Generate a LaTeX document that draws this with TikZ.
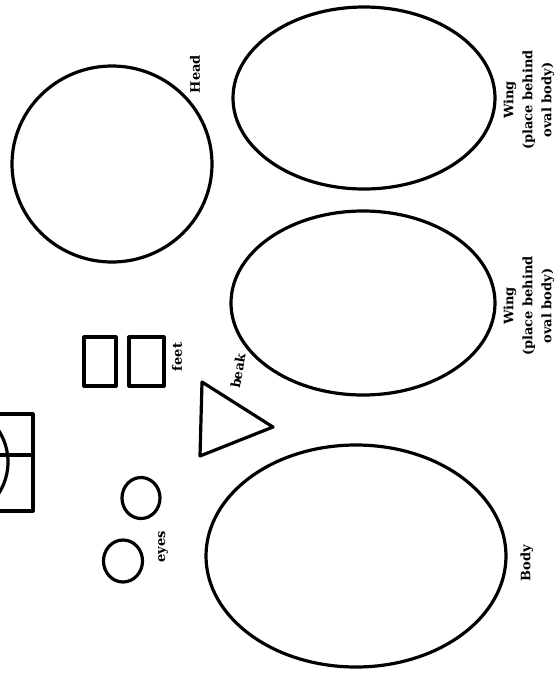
\documentclass[tikz,border=0pt]{standalone}
\usepackage{fontspec}
\usepackage{tikz}
\newfontfamily\lblfont{DejaVu Serif}
\begin{document}
\begin{tikzpicture}[
  x=1pt,y=-1pt,
  o/.style={draw=black,line width=3.2,line join=round},
  l/.style={font=\lblfont\bfseries\fontsize{13}{19}\selectfont,rotate=90,align=center,inner sep=0pt}]
\useasboundingbox (0,0) rectangle (558,673);
\fill[white] (0,0) rectangle (558,673);
\clip (0,0) rectangle (558,673);
% head
\draw[o] (112,164) ellipse [x radius=100,y radius=98];
% wings
\draw[o] (364,98) ellipse [x radius=131,y radius=91];
\draw[o] (363,303) ellipse [x radius=132,y radius=92];
% body
\draw[o] (356,556) ellipse [x radius=150,y radius=111];
% feet
\draw[o] (84,337) rectangle (116,386);
\draw[o] (129,337) rectangle (164,386);
% beak
\draw[o] (202,382) -- (273,427) -- (200,456) -- cycle;
% eyes
\draw[o] (141,498) ellipse [x radius=19,y radius=20.5];
\draw[o] (123,561) ellipse [x radius=19.5,y radius=21];
% cut-off piece at the edge
\draw[o] (-10,414) rectangle (33,511);
\draw[o] (-10,455) -- (33,455);
\draw[o] (-50,462) circle [radius=58];
% labels
\node[l] (headlbl) at (195,74) {Head};
\node[l] (wing1lbl) at (529,100) {Wing\\(place behind\\oval body)};
\node[l] (wing2lbl) at (529,306) {Wing\\(place behind\\oval body)};
\node[l] (bodylbl) at (527,563) {Body};
\node[l] (eyeslbl) at (163,547) {eyes};
\node[l] (feetlbl) at (177,357) {feet};
\node[l,rotate=-10] (beaklbl) at (238,371) {beak};
\end{tikzpicture}
\end{document}
